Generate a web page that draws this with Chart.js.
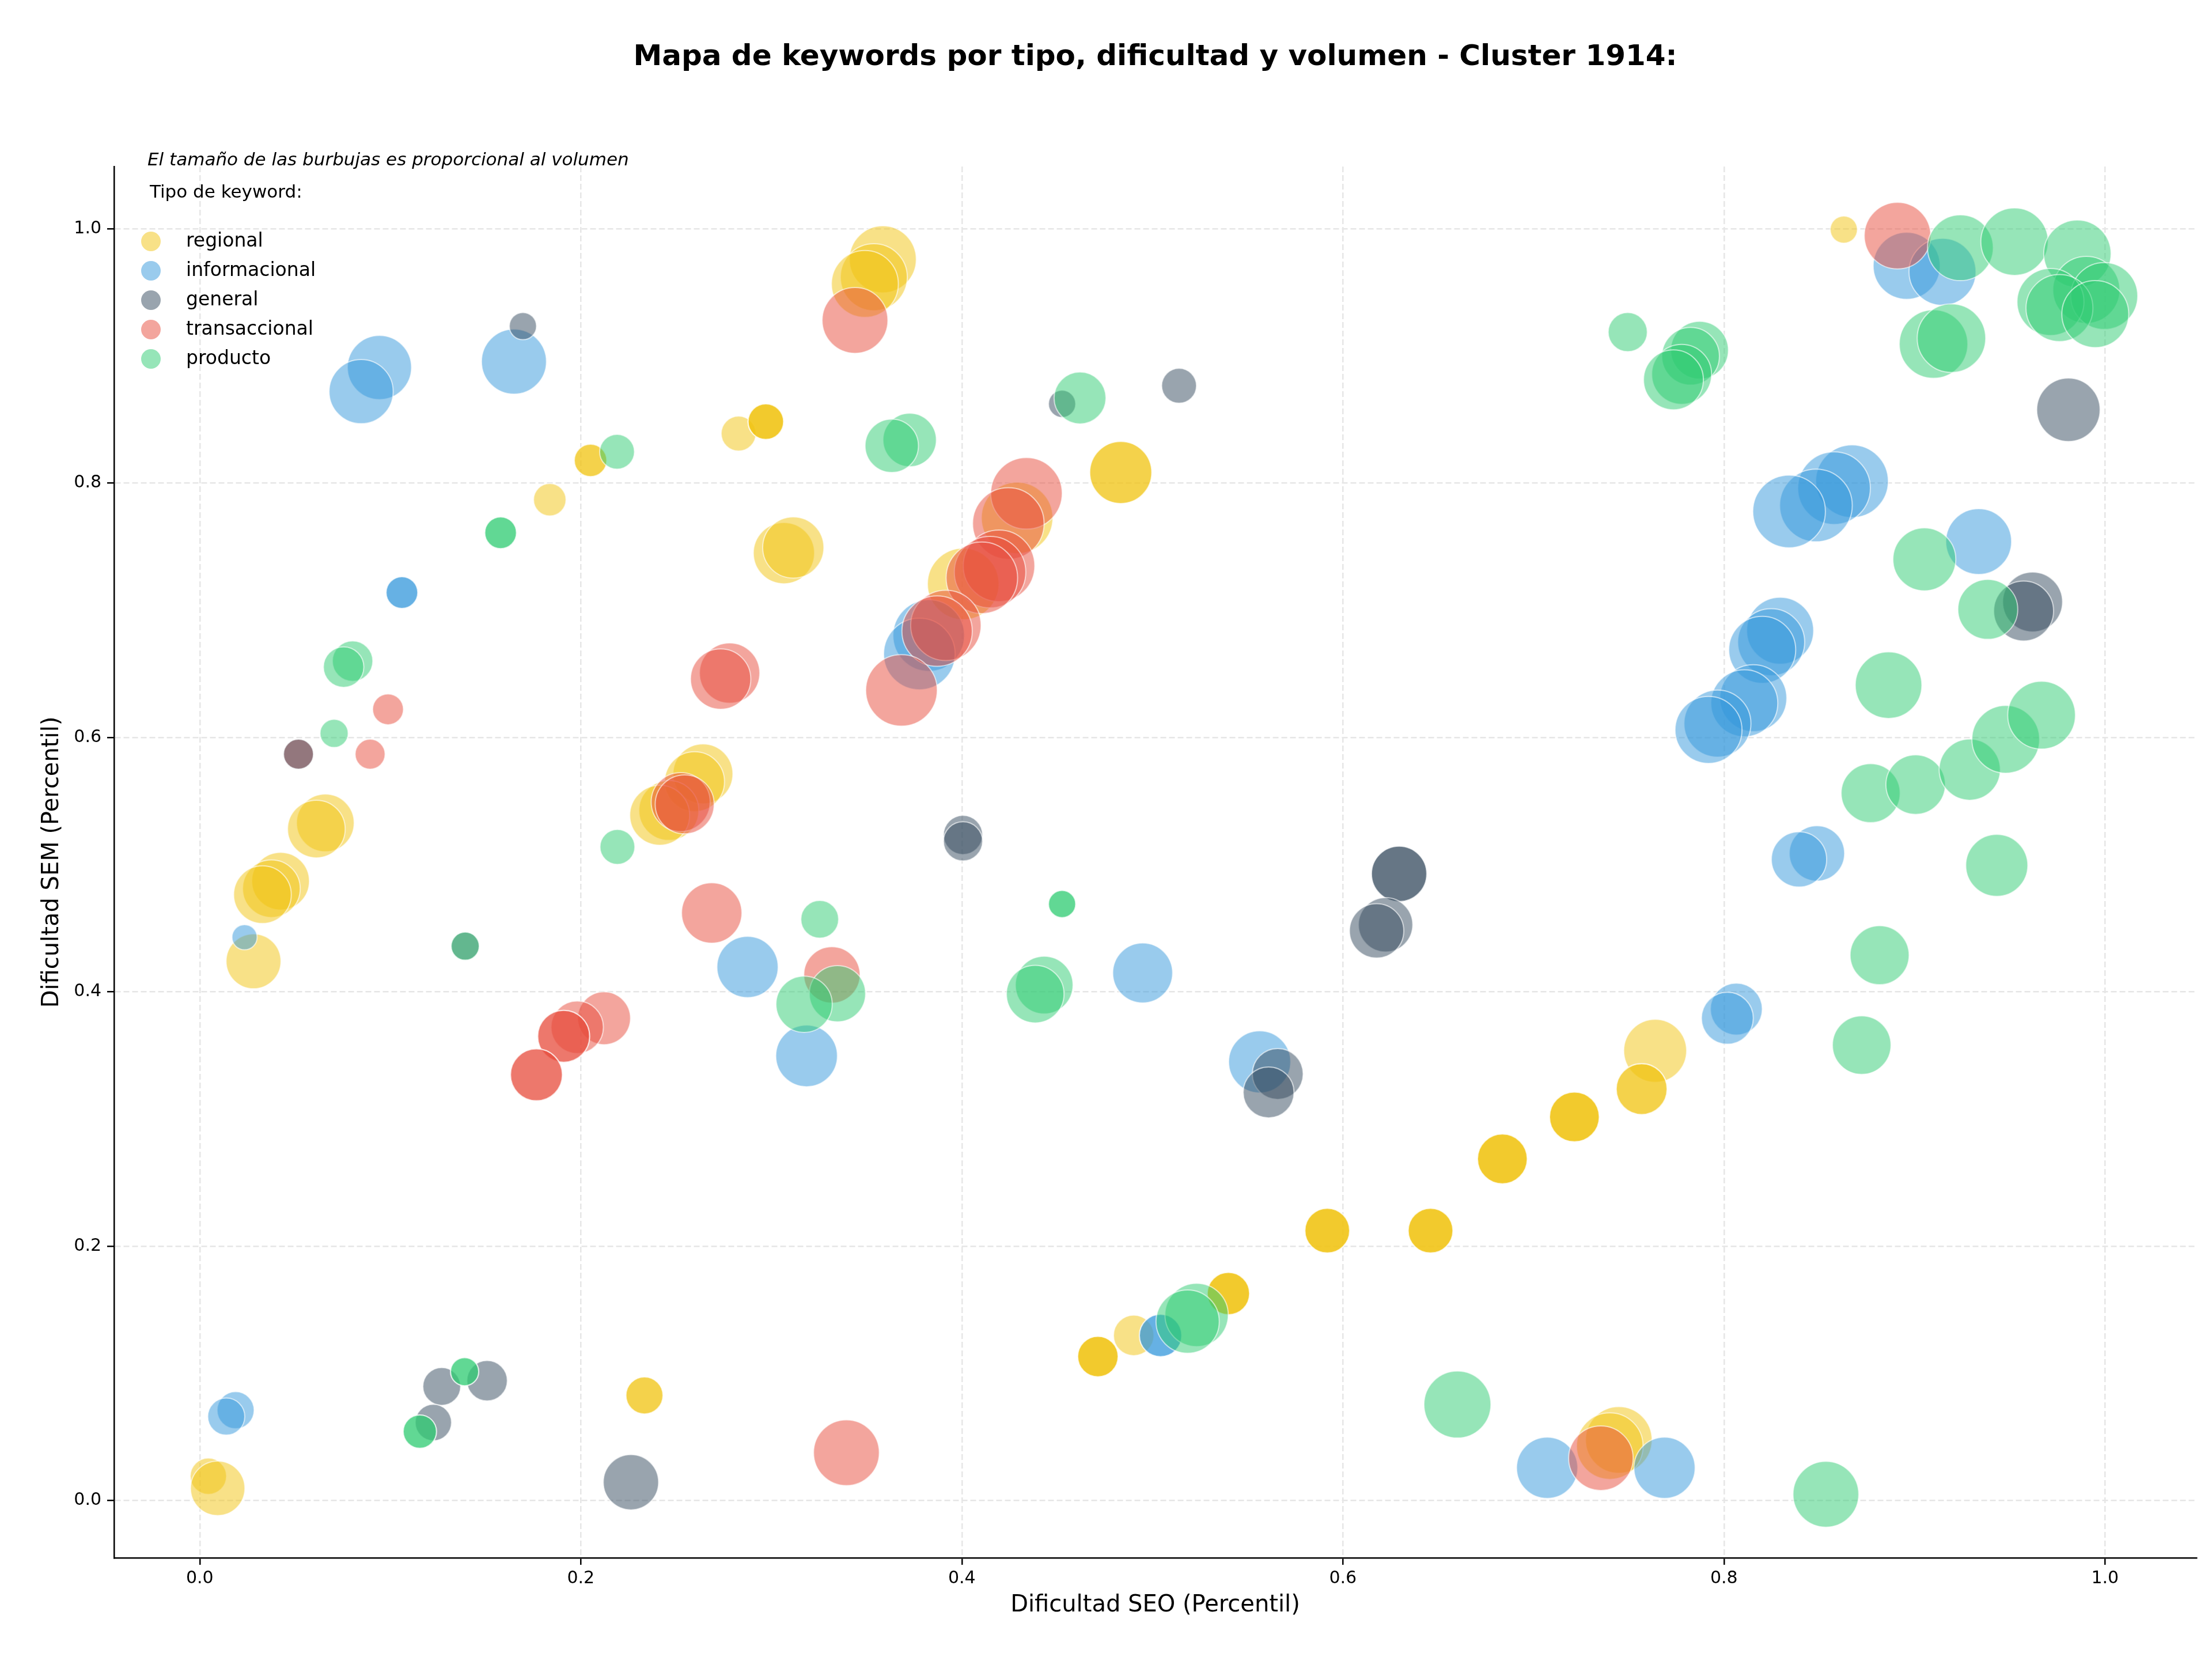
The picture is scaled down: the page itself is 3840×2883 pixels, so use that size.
<!DOCTYPE html>
<html>
<head>
<meta charset="utf-8">
<script src="https://cdn.jsdelivr.net/npm/chart.js@4.4.1/dist/chart.umd.min.js"></script>
<style>
  html, body { margin: 0; padding: 0; background: #fff; }
  #wrap { width: 3840px; height: 2883px; }
</style>
</head>
<body>
<div id="wrap"><canvas id="bubbleChart" width="3840" height="2883"></canvas></div>
<script>
// Keyword types (legend order)
const categories = ['regional', 'informacional', 'general', 'transaccional', 'producto']
const colors = ['241, 196, 15', '52, 152, 219', '52, 73, 94', '231, 76, 60', '46, 204, 113']
// stacking of the bubble layers (lower = drawn on top)
const drawOrder = [5, 4, 2, 3, 1]

// [SEO percentile, SEM percentile, relative volume]
const regional = [
  [0.1837, 0.787, 20], [0.2051, 0.8179, 20], [0.2051, 0.8179, 20],
  [0.2828, 0.839, 23], [0.2971, 0.8484, 24], [0.2971, 0.8484, 24], [0.2971, 0.8484, 24],
  [0.3585, 0.976, 85], [0.3538, 0.962, 85], [0.3491, 0.9567, 85],
  [0.3066, 0.745, 71], [0.3115, 0.7494, 71],
  [0.4834, 0.8084, 73], [0.4834, 0.8084, 73],
  [0.429, 0.7727, 97], [0.4007, 0.7208, 97],
  [0.0659, 0.5329, 63], [0.0612, 0.5281, 63],
  [0.0424, 0.4871, 63], [0.0376, 0.4812, 63], [0.0329, 0.4765, 63],
  [0.0282, 0.4241, 57],
  [0.2641, 0.5714, 68], [0.2597, 0.5653, 68], [0.2462, 0.5427, 68], [0.2414, 0.5389, 68],
  [0.7639, 0.3537, 75], [0.7568, 0.3236, 49], [0.7568, 0.3236, 49],
  [0.6837, 0.2687, 47], [0.6837, 0.2687, 47], [0.6837, 0.2687, 47],
  [0.7215, 0.3017, 47], [0.7215, 0.3017, 47], [0.7215, 0.3017, 47],
  [0.5918, 0.2123, 38], [0.5918, 0.2123, 38], [0.5918, 0.2123, 38],
  [0.646, 0.2123, 38], [0.646, 0.2123, 38], [0.646, 0.2123, 38],
  [0.5399, 0.1628, 34], [0.5399, 0.1628, 34], [0.5399, 0.1628, 34],
  [0.4902, 0.1299, 31], [0.4714, 0.1133, 31], [0.4714, 0.1133, 31], [0.4714, 0.1133, 31],
  [0.7448, 0.0477, 84], [0.7401, 0.0429, 84],
  [0.0045, 0.0192, 25], [0.0094, 0.0097, 56],
  [0.2334, 0.0827, 26], [0.2334, 0.0827, 26],
  [0.8629, 0.9994, 14]
]

const informacional = [
  [0.0943, 0.891, 78], [0.0847, 0.872, 78], [0.1649, 0.8956, 80],
  [0.1061, 0.714, 19], [0.1061, 0.714, 19],
  [0.0235, 0.443, 12],
  [0.2875, 0.4196, 71], [0.3185, 0.3497, 72],
  [0.3826, 0.6802, 97], [0.3777, 0.6657, 97],
  [0.4949, 0.4149, 68], [0.5563, 0.345, 73],
  [0.5043, 0.1299, 34], [0.5043, 0.1299, 34],
  [0.0188, 0.0711, 26], [0.0139, 0.0661, 26],
  [0.7072, 0.0258, 71], [0.7688, 0.0258, 71],
  [0.8065, 0.3865, 51], [0.8018, 0.3793, 51],
  [0.8488, 0.5089, 58], [0.8394, 0.5042, 58],
  [0.8295, 0.684, 85], [0.8248, 0.675, 85], [0.8201, 0.669, 85],
  [0.8154, 0.631, 85], [0.8107, 0.627, 85], [0.7966, 0.611, 85], [0.7919, 0.606, 85],
  [0.8672, 0.8015, 100], [0.8578, 0.7961, 100], [0.8483, 0.7825, 100], [0.8342, 0.7778, 100],
  [0.9337, 0.7541, 82],
  [0.8959, 0.9709, 85], [0.9147, 0.9662, 85]
]

const general = [
  [0.1696, 0.9235, 14], [0.4526, 0.8624, 14], [0.514, 0.8766, 23],
  [0.0518, 0.5869, 17], [0.1393, 0.436, 15],
  [0.4006, 0.5234, 29], [0.4006, 0.5184, 29],
  [0.6295, 0.4928, 58], [0.6295, 0.4928, 58],
  [0.6224, 0.4528, 56], [0.6177, 0.448, 56],
  [0.5658, 0.3355, 49], [0.561, 0.321, 49],
  [0.127, 0.0898, 27], [0.1508, 0.0943, 31], [0.1226, 0.0614, 25],
  [0.2263, 0.0145, 58],
  [0.9808, 0.8577, 76],
  [0.962, 0.7066, 68], [0.9573, 0.6995, 68]
]

const transaccional = [
  [0.3439, 0.928, 82],
  [0.4339, 0.792, 97], [0.4244, 0.7683, 97], [0.4195, 0.735, 97], [0.4148, 0.7301, 97],
  [0.4105, 0.7256, 97], [0.3916, 0.6882, 94], [0.387, 0.6837, 94], [0.3683, 0.6371, 97],
  [0.0988, 0.6222, 18], [0.0518, 0.5869, 17], [0.0894, 0.5869, 17],
  [0.2781, 0.6507, 69], [0.2734, 0.646, 69],
  [0.2524, 0.5493, 66], [0.2545, 0.5475, 66],
  [0.2687, 0.4621, 69],
  [0.3318, 0.4134, 60],
  [0.2122, 0.3793, 53], [0.1981, 0.3722, 52], [0.191, 0.3651, 51], [0.191, 0.3651, 51],
  [0.1767, 0.3348, 51], [0.1767, 0.3348, 51],
  [0.3394, 0.0377, 82], [0.7354, 0.0334, 79],
  [0.8911, 0.9946, 84]
]

const producto = [
  [0.219, 0.8247, 23], [0.1579, 0.761, 19], [0.1579, 0.761, 19],
  [0.0802, 0.6601, 31], [0.0755, 0.6554, 31], [0.0705, 0.6033, 15],
  [0.1393, 0.436, 15], [0.2192, 0.514, 23],
  [0.3726, 0.834, 54], [0.3632, 0.8294, 54], [0.462, 0.867, 51],
  [0.3254, 0.4571, 27], [0.3347, 0.3986, 60], [0.3172, 0.3903, 60],
  [0.4526, 0.4691, 14], [0.4526, 0.4691, 14],
  [0.4432, 0.4054, 63], [0.4385, 0.3983, 63],
  [0.139, 0.1014, 15], [0.139, 0.1014, 15], [0.1155, 0.0543, 21], [0.1155, 0.0543, 21],
  [0.5232, 0.146, 76], [0.5185, 0.1408, 76],
  [0.6601, 0.0756, 85], [0.8535, 0.005, 82],
  [0.8723, 0.3582, 65], [0.8817, 0.4289, 66], [0.9432, 0.4995, 73],
  [0.877, 0.5563, 66], [0.9006, 0.563, 67], [0.929, 0.5748, 71], [0.9479, 0.5986, 87], [0.9667, 0.6176, 87],
  [0.8864, 0.6412, 84], [0.9052, 0.7401, 75], [0.9385, 0.7008, 68],
  [0.7495, 0.9188, 29],
  [0.7872, 0.9046, 63], [0.7825, 0.8998, 63], [0.7778, 0.8856, 68], [0.7735, 0.8813, 68],
  [0.91, 0.9094, 89], [0.9194, 0.914, 89],
  [0.9241, 0.9851, 82], [0.9525, 0.9899, 86], [0.9855, 0.9804, 86],
  [0.9902, 0.952, 85], [0.9996, 0.9472, 85], [0.9714, 0.9425, 85], [0.9761, 0.9377, 85], [0.9949, 0.933, 85]
]

const seriesData = [regional, informacional, general, transaccional, producto]
const tickValues = [0, 0.2, 0.4, 0.6, 0.8, 1.0]

const FONT = "'DejaVu Sans', sans-serif"
const bubbleRadius = vol => Math.sqrt(vol) * 6.3 // area proportional to volume

// title, note and legend drawn inside the figure like matplotlib does
const overlayPlugin = {
  id: 'overlay',
  afterDraw(chart) {
    const ctx = chart.ctx
    const area = chart.chartArea
    ctx.save()
    ctx.fillStyle = '#000'
    ctx.textBaseline = 'middle'
    ctx.textAlign = 'center'
    ctx.font = `bold 50px ${FONT}`
    ctx.fillText('Mapa de keywords por tipo, dificultad y volumen - Cluster 1914:', (area.left + area.right) / 2, 100)

    ctx.textAlign = 'left'
    ctx.font = `italic 31px ${FONT}`
    ctx.fillText('El tamaño de las burbujas es proporcional al volumen', 256, 279)
    ctx.font = `31px ${FONT}`
    ctx.fillText('Tipo de keyword:', 260, 335)

    ctx.font = `33px ${FONT}`
    categories.forEach((name, i) => {
      const y = 419 + i * 51
      ctx.beginPath()
      ctx.arc(262, y, 17, 0, Math.PI * 2)
      ctx.fillStyle = `rgba(${colors[i]}, 0.5)`
      ctx.fill()
      ctx.fillStyle = '#000'
      ctx.fillText(name, 323, y)
    })
    ctx.restore()
  }
}

const axisCommon = {
  type: 'linear',
  afterBuildTicks: scale => { scale.ticks = tickValues.map(v => ({ value: v })) },
  grid: {
    color: '#e6e6e6',
    lineWidth: 2.5,
    tickLength: 12,
    tickColor: '#000',
    tickWidth: 2.5,
    tickBorderDash: []
  },
  border: { display: true, color: '#000', width: 2.5, dash: [10, 5] },
  ticks: {
    font: { size: 30, family: FONT },
    color: '#000',
    callback: v => Number(v).toFixed(1)
  }
}

const config = {
  type: 'bubble',
  data: {
    datasets: categories.map((name, i) => ({
      label: name,
      order: drawOrder[i],
      data: seriesData[i].map(p => ({ x: p[0], y: p[1], r: bubbleRadius(p[2]) })),
      backgroundColor: `rgba(${colors[i]}, 0.5)`,
      borderColor: 'rgba(255, 255, 255, 0.6)',
      borderWidth: 2,
      hoverBorderWidth: 2,
      hoverRadius: 0
    }))
  },
  options: {
    responsive: false,
    animation: false,
    devicePixelRatio: 1,
    layout: { autoPadding: false, padding: { top: 289, right: 27, bottom: 0, left: 0 } },
    scales: {
      x: {
        ...axisCommon,
        min: -0.045,
        max: 1.048,
        afterFit: scale => {
          scale.height = 179
          scale.paddingLeft = 0
          scale.paddingRight = 0
        },
        ticks: { ...axisCommon.ticks, padding: 6, maxRotation: 0 },
        title: {
          display: true,
          text: 'Dificultad SEO (Percentil)',
          font: { size: 40, family: FONT },
          color: '#000',
          padding: { top: 0, bottom: 72 }
        }
      },
      y: {
        ...axisCommon,
        min: -0.045,
        max: 1.049,
        afterFit: scale => {
          scale.width = 198
          scale.paddingTop = 0
          scale.paddingBottom = 0
        },
        ticks: { ...axisCommon.ticks, padding: 10 },
        title: {
          display: true,
          text: 'Dificultad SEM (Percentil)',
          font: { size: 40, family: FONT },
          color: '#000',
          padding: { top: 67, bottom: 0 }
        }
      }
    },
    plugins: {
      legend: { display: false },
      title: { display: false },
      tooltip: { enabled: false }
    }
  },
  plugins: [overlayPlugin]
}

const chart = new Chart(document.querySelector('#bubbleChart'), config)
</script>
</body>
</html>
